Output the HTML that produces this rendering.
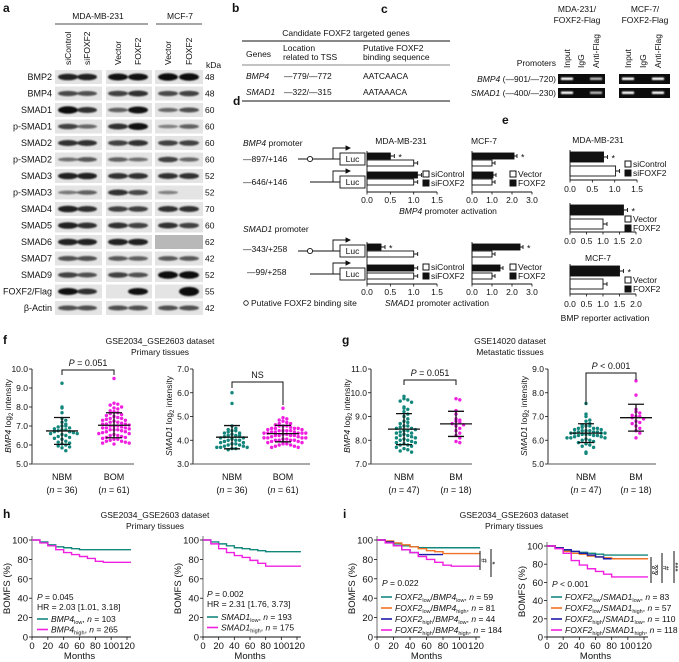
<!DOCTYPE html>
<html><head><meta charset="utf-8"><style>
body{margin:0;background:#fff}
svg{display:block;font-family:"Liberation Sans",sans-serif;font-size:8.5px;fill:#111}
.pl{font-weight:bold;font-size:12px}
.it{font-style:italic}
</style></head><body>
<svg id="fig" width="679" height="662" viewBox="0 0 679 662" xmlns="http://www.w3.org/2000/svg">
<defs><filter id="blur" x="-20%" y="-50%" width="140%" height="200%"><feGaussianBlur stdDeviation="0.8"/></filter></defs>
<text class="pl" x="3" y="12">a</text>
<text class="pl" x="232" y="12">b</text>
<text class="pl" x="381" y="13">c</text>
<text class="pl" x="233" y="105">d</text>
<text class="pl" x="502" y="124">e</text>
<text class="pl" x="3" y="344">f</text>
<text class="pl" x="342" y="344">g</text>
<text class="pl" x="3" y="518">h</text>
<text class="pl" x="343" y="518">i</text>

<g id="blotg">
<text x="98" y="19" text-anchor="middle">MDA-MB-231</text>
<line x1="55" y1="24" x2="148" y2="24" stroke="#111" stroke-width="0.8"/>
<text x="180" y="19" text-anchor="middle">MCF-7</text>
<line x1="156" y1="24" x2="202" y2="24" stroke="#111" stroke-width="0.8"/>
<text x="206" y="68">kDa</text>
</g>

<g>
<text x="346" y="36" text-anchor="middle">Candidate FOXF2 targeted genes</text>
<line x1="242" y1="41" x2="450" y2="41" stroke="#111" stroke-width="0.9"/>
<text x="246" y="57">Genes</text>
<text x="283" y="51">Location</text><text x="283" y="60">related to TSS</text>
<text x="363" y="51">Putative FOXF2</text><text x="363" y="60">binding sequence</text>
<line x1="242" y1="65" x2="450" y2="65" stroke="#111" stroke-width="0.6"/>
<text x="246" y="79" class="it">BMP4</text><text x="284" y="79">—779/—772</text><text x="363" y="79">AATCAACA</text>
<text x="246" y="95" class="it">SMAD1</text><text x="284" y="95">—322/—315</text><text x="363" y="95">AATAAACA</text>
<line x1="242" y1="101" x2="450" y2="101" stroke="#111" stroke-width="0.9"/>
</g>

<g id="chipg">
<text x="577" y="12" text-anchor="middle">MDA-231/</text>
<text x="577" y="23" text-anchor="middle">FOXF2-Flag</text>
<text x="645" y="12" text-anchor="middle">MCF-7/</text>
<text x="645" y="23" text-anchor="middle">FOXF2-Flag</text>
<text x="556" y="66" text-anchor="end">Promoters</text>
<text x="556" y="82" text-anchor="end"><tspan class="it">BMP4</tspan> (—901/—720)</text>
<text x="556" y="96" text-anchor="end"><tspan class="it">SMAD1</tspan> (—400/—230)</text>
</g>

<g stroke-width="0.9">
<text x="243" y="146"><tspan class="it">BMP4</tspan> promoter</text>
<text x="243" y="162">—897/+146</text>
<text x="243" y="185">—646/+146</text>
<text x="243" y="232"><tspan class="it">SMAD1</tspan> promoter</text>
<text x="243" y="252">—343/+258</text>
<text x="247" y="275">—99/+258</text>
<circle cx="246" cy="303" r="2.3" fill="#fff" stroke="#111" stroke-width="0.8"/>
<text x="251" y="306">Putative FOXF2 binding site</text>
<g id="constructs" fill="none" stroke="#111"></g>
<text x="448" y="214" text-anchor="middle"><tspan class="it">BMP4</tspan> promoter activation</text>
<text x="437" y="306" text-anchor="middle"><tspan class="it">SMAD1</tspan> promoter activation</text>
<text x="401" y="144" text-anchor="middle">MDA-MB-231</text>
<text x="484" y="144" text-anchor="middle">MCF-7</text>
<text x="598" y="143" text-anchor="middle">MDA-MB-231</text>
<text x="598" y="261" text-anchor="middle">MCF-7</text>
<text x="605" y="321" text-anchor="middle">BMP reporter activation</text>
</g>
<g id="bars"></g>

<text x="160" y="344" text-anchor="middle">GSE2034_GSE2603 dataset</text>
<text x="160" y="355" text-anchor="middle">Primary tissues</text>
<text x="510" y="344" text-anchor="middle">GSE14020 dataset</text>
<text x="510" y="355" text-anchor="middle">Metastatic tissues</text>
<g id="scatters"></g>

<text x="155" y="518" text-anchor="middle">GSE2034_GSE2603 dataset</text>
<text x="155" y="529" text-anchor="middle">Primary tissues</text>
<text x="514" y="518" text-anchor="middle">GSE2034_GSE2603 dataset</text>
<text x="514" y="529" text-anchor="middle">Primary tissues</text>
<g id="km"></g>
</svg>
<script>
const blotRows = ["BMP2","BMP4","SMAD1","p-SMAD1","SMAD2","p-SMAD2","SMAD3","p-SMAD3","SMAD4","SMAD5","SMAD6","SMAD7","SMAD9","FOXF2/Flag","β-Actin"];
const blotKda = [48,48,60,60,60,60,52,52,70,60,62,42,52,55,42];
const blotLanes = ["siControl","siFOXF2","Vector","FOXF2","Vector","FOXF2"];
const blotStrength = [
 [.8,.8,.9,.9,1,1],[.55,.5,.6,.7,.55,.6],[1,.7,.4,.9,.35,.5],[.6,.35,.7,.9,.2,.4],
 [.7,.7,.6,.7,.6,.6],[.3,.45,.4,.3,.6,.35],[.8,.8,.7,.7,.7,.7],[.25,.4,.7,.55,.2,0],
 [.8,.7,.6,.6,.7,.7],[.8,.7,.7,.6,.7,.6],[.8,.8,.8,.8,-1,-1],[.5,.5,.45,.4,.45,.45],
 [.6,.5,.6,.5,1,1],[.9,.7,0,.9,0,1.3],[.5,.5,.5,.5,.5,.5]];
const chipLanes = ["Input","IgG","Anti-Flag"];
const chipBmp4 = [1,0,.5,1,0,1];
const chipSmad1 = [1,0,.5,1,0,1];

const dBmpMda = [0.5,1.0,1.08,1.0];
const dBmpMcf = [2.1,1.0,1.05,1.0];
const dSmadMda = [0.3,1.0,1.0,1.0];
const dSmadMcf = [2.4,1.0,1.4,1.0];
const eMda = [0.75,1.02];
const eMdaVec = [1.62,1.0];
const eMcf = [1.5,1.0];
const ticks15 = ["0.0","0.5","1.0","1.5"];
const ticks30 = ["0.0","1.0","2.0","3.0"];
const ticks20 = ["0.0","0.5","1.0","1.5","2.0"];

const fNbmBmp4 = [9.25,8.0,7.95,7.7,7.4,7.3,7.2,7.1,7.0,7.0,6.95,6.9,6.85,6.8,6.8,6.75,6.7,6.7,6.65,6.6,6.6,6.55,6.5,6.45,6.4,6.35,6.3,6.2,6.15,6.1,6.05,6.0,5.95,5.9,5.85,5.7];
const fBomBmp4 = [9.5,8.2,8.15,8.1,8.0,7.95,7.9,7.8,7.75,7.7,7.65,7.6,7.55,7.5,7.45,7.4,7.35,7.3,7.3,7.25,7.2,7.15,7.1,7.1,7.05,7.0,7.0,6.95,6.9,6.9,6.85,6.8,6.8,6.75,6.7,6.7,6.65,6.6,6.6,6.55,6.5,6.5,6.45,6.4,6.4,6.35,6.3,6.3,6.25,6.2,6.2,6.15,6.1,6.1,6.05,7.2,7.0,6.9,7.1,7.4,6.8];
const fNbmSmad1 = [6.0,5.55,4.6,4.5,4.45,4.4,4.4,4.35,4.3,4.3,4.25,4.2,4.2,4.15,4.1,4.1,4.05,4.0,4.0,3.95,3.9,3.9,3.85,3.85,3.8,3.8,3.75,3.75,3.7,3.7,3.7,3.65,3.65,3.6,4.0,4.2];
const fBomSmad1 = [5.35,4.95,4.9,4.85,4.8,4.75,4.7,4.7,4.65,4.6,4.6,4.55,4.5,4.5,4.5,4.45,4.45,4.4,4.4,4.4,4.35,4.35,4.3,4.3,4.3,4.3,4.25,4.25,4.2,4.2,4.2,4.15,4.15,4.1,4.1,4.1,4.05,4.05,4.0,4.0,4.0,3.95,3.95,3.9,3.9,3.85,3.85,3.8,3.8,3.75,3.75,3.7,3.7,4.3,4.4,4.2,4.5,4.1,4.6,4.0,4.35];
const gNbmBmp4 = [9.85,9.75,9.7,9.65,9.6,9.4,9.35,9.3,9.2,9.1,9.0,8.9,8.8,8.75,8.7,8.6,8.55,8.5,8.45,8.4,8.4,8.35,8.3,8.3,8.25,8.2,8.2,8.15,8.1,8.1,8.05,8.0,8.0,7.95,7.9,7.9,7.85,7.8,7.8,7.75,7.7,7.65,7.6,7.55,7.5,8.5,8.6];
const gBmBmp4 = [9.75,9.7,9.25,9.1,8.9,8.85,8.8,8.75,8.7,8.65,8.6,8.5,8.4,8.3,8.2,8.1,7.95,7.9];
const gNbmSmad1 = [7.55,7.1,7.0,6.85,6.8,6.7,6.65,6.6,6.55,6.5,6.5,6.45,6.4,6.4,6.35,6.35,6.3,6.3,6.3,6.25,6.25,6.2,6.2,6.15,6.15,6.1,6.1,6.05,6.0,6.0,5.95,5.9,5.85,5.8,5.75,5.7,5.5,5.45,6.3,6.4,6.2,6.5,6.1,6.35,6.25,6.45,6.6];
const gBmSmad1 = [8.5,7.9,7.3,7.2,7.15,7.05,7.0,7.0,6.95,6.9,6.8,6.75,6.7,6.6,6.5,6.4,6.3,6.1];
const fTicks1 = ["5.0","6.0","7.0","8.0","9.0","10.0"];
const fTicks2 = ["3.0","4.0","5.0","6.0","7.0"];
const gTicks1 = ["7.0","8.0","9.0","10.0","11.0"];
const gTicks2 = ["5.0","6.0","7.0","8.0","9.0"];

const kmMonths = [0,10,20,30,40,50,60,70,80,90,125];
const hBmp4Low  = [100,98,95,93,92,91,90,90,90,90,90];
const hBmp4High = [100,97,94,90,87,85,83,81,78,77,77];
const hSmad1Low = [100,98,96,94,92,91,90,89,88,88,88];
const hSmad1High= [100,96,91,87,84,82,79,76,73,73,73];
const iB_LL = [100,98,96,94,93,92,92,92,92,92,92];
const iB_LH = [100,99,97,95,93,91,89,88,86,86,86];
const iB_HL = [100,98,94,90,87,85,85,85,85];
const iB_HH = [100,97,94,90,87,83,80,77,74,73,73];
const iS_LL = [100,98,95,94,93,92,91,90,90,90,90];
const iS_LH = [100,98,94,92,91,89,88,87,86,86,86];
const iS_HL = [100,98,96,94,92,90,88,86,86];
const iS_HH = [100,97,92,84,79,75,72,69,66,66,66];
const kmYTicks = ["0","20","40","60","80","100"];
const kmXTicks = ["0","20","40","60","80","100","120"];

const NS="http://www.w3.org/2000/svg";
function mk(tag,attrs,parent){const e=document.createElementNS(NS,tag);for(const k in attrs)e.setAttribute(k,attrs[k]);parent.appendChild(e);return e;}
function txt(s,attrs,parent){const e=mk("text",attrs,parent);e.textContent=s;return e;}
const TEAL="#14877d",MAG="#f020e0",ORA="#f07224",BLU="#1c1ca8";

(function(){
 const g=document.getElementById("blotg");
 const laneX=[68,87,118,138,168,189];
 const boxes=[[55,102],[106,152],[155,203]];
 blotLanes.forEach((l,i)=>{
  const t=txt(l,{x:laneX[i]+3,y:65,transform:`rotate(-90 ${laneX[i]+3} 65)`},g);
  
  
 });
 blotRows.forEach((r,ri)=>{
  const cy=77+ri*16.5;
  const lab=txt(r,{x:52,y:cy+3,"text-anchor":"end","font-size":"9px"},g);
  
  
  boxes.forEach((b,bi)=>{
   const gray = blotStrength[ri][bi*2]<0;
   const rc=mk("rect",{x:b[0],y:cy-7,width:b[1]-b[0],height:14,fill:gray?"#b8b8b8":"#e4e4e4"},g);
   
   
  });
  blotStrength[ri].forEach((s,li)=>{
   if(s<=0)return;
   const el=mk("ellipse",{cx:laneX[li],cy:cy,rx:10,ry:1.2+2.6*s,fill:"#111","fill-opacity":Math.min(1,.35+.7*s),filter:"url(#blur)"},g);
   
   
  });
  const k=txt(String(blotKda[ri]),{x:205,y:cy+3},g);
  
  
 });
})();

(function(){
 const g=document.getElementById("chipg");
 const lx=[567,581,596,628,643,658];
 lx.forEach((x,i)=>{
  const t=txt(chipLanes[i%3],{x:x+3,y:68,transform:`rotate(-90 ${x+3} 68)`},g);
  
  
 });
 [[74,chipBmp4],[88,chipSmad1]].forEach(([y,vals])=>{
  [[558,605],[619,670]].forEach(b=>{
   const r=mk("rect",{x:b[0],y:y,width:b[1]-b[0],height:10,fill:"#0c0c0c"},g);
   
   
  });
  vals.forEach((v,i)=>{
   if(v<=0)return;
   const e=mk("rect",{x:lx[i]-6,y:y+3.5,width:12,height:2.5,fill:"#fff","fill-opacity":.4+.6*v,filter:"url(#blur)"},g);
   
   
  });
 });
})();

(function(){
 const g=document.getElementById("constructs");
 [[159,true],[182,false],[251,true],[274,false]].forEach(([y,site])=>{
  mk("line",{x1:site?298:310,y1:y,x2:340,y2:y},g);
  if(site){const c=mk("circle",{cx:310,cy:y,r:2.6,fill:"#fff"},g);
   
   }
  mk("polyline",{points:`333,${y} 333,${y-11} 346,${y-11}`},g);
  mk("path",{d:`M346,${y-13} L350,${y-11} L346,${y-9}Z`,fill:"#111"},g);
  const b=mk("rect",{x:340,y:y-6,width:25,height:12,fill:"#fff"},g);
  
  
  const t=txt("Luc",{x:352.5,y:y+3,"text-anchor":"middle",fill:"#111",stroke:"none"},g);
  
  
 });
})();

function barChart(o){
 const g=document.getElementById("bars");
 const sx=v=>o.x0+v*o.ppu;
 o.vals.forEach((v,i)=>{
  const y=o.barY[i],h=o.barH;
  const filled=i%2===0;
  const r=mk("rect",{x:o.x0,y:y,width:sx(v)-o.x0,height:h,fill:filled?"#111":"#fff",stroke:"#111","stroke-width":.9},g);
  
  
  const e=mk("path",{d:`M${sx(v)},${y+h/2}h${o.err}M${sx(v)+o.err},${y+h/2-2}v4`,stroke:"#111","stroke-width":.9},g);
  
  
  if(o.star&&o.star[i]){const s=txt("*",{x:sx(v)+o.err+4,y:y+h/2+4.5,"font-size":"9px"},g);
   
   }
 });
 const top=o.barY[0]-2,bot=o.axisY;
 mk("line",{x1:o.x0,y1:top,x2:o.x0,y2:bot,stroke:"#111","stroke-width":.9},g);
 mk("line",{x1:o.x0,y1:bot,x2:sx(o.max),y2:bot,stroke:"#111","stroke-width":.9},g);
 o.ticks.forEach((t,i)=>{
  const v=o.max*i/(o.ticks.length-1);
  mk("line",{x1:sx(v),y1:bot,x2:sx(v),y2:bot+2.5,stroke:"#111","stroke-width":.8},g);
  const tl=txt(t,{x:sx(v),y:o.labY,"text-anchor":"middle"},g);
  
  
 });
 o.legend.forEach((l,i)=>{
  const y=o.legY+i*9;
  const sq=mk("rect",{x:o.legX,y:y-6,width:6,height:6,fill:i===0?"#fff":"#111",stroke:"#111","stroke-width":1},g);
  
  
  const lt=txt(l,{x:o.legX+8,y:y},g);
  
  
 });
}
barChart({vals:dBmpMda,x0:367,ppu:46.7,max:1.5,barY:[153,160,172,179],barH:6,err:4,star:[1],axisY:192,labY:203,ticks:ticks15,legend:["siControl","siFOXF2"],legX:423,legY:177});
barChart({vals:dBmpMcf,x0:472,ppu:20,max:3,barY:[153,160,172,179],barH:6,err:3,star:[1],axisY:192,labY:203,ticks:ticks30,legend:["Vector","FOXF2"],legX:510,legY:177});
barChart({vals:dSmadMda,x0:367,ppu:46.7,max:1.5,barY:[244,251,265,273],barH:6,err:4,star:[1],axisY:284,labY:295,ticks:ticks15,legend:["siControl","siFOXF2"],legX:423,legY:270});
barChart({vals:dSmadMcf,x0:472,ppu:20,max:3,barY:[244,251,265,273],barH:6,err:3,star:[1],axisY:284,labY:295,ticks:ticks30,legend:["Vector","FOXF2"],legX:510,legY:270});
barChart({vals:eMda,x0:570,ppu:44.7,max:1.5,barY:[152,166],barH:10,err:4,star:[1],axisY:180,labY:192,ticks:ticks15,legend:["siControl","siFOXF2"],legX:625,legY:167});
barChart({vals:eMdaVec,x0:570,ppu:33,max:2,barY:[205,219],barH:10,err:4,star:[1],axisY:232,labY:244,ticks:ticks20,legend:["Vector","FOXF2"],legX:625,legY:222});
barChart({vals:eMcf,x0:570,ppu:33,max:2,barY:[266,279],barH:10,err:4,star:[1],axisY:294,labY:307,ticks:ticks20,legend:["Vector","FOXF2"],legX:625,legY:283});

function scatter(o){
 const g=document.getElementById("scatters");
 const yT=369,yB=464;
 const sy=v=>yB-(v-o.min)/(o.max-o.min)*(yB-yT);
 mk("line",{x1:o.ax,y1:yT,x2:o.ax,y2:yB,stroke:"#111","stroke-width":.9},g);
 mk("line",{x1:o.ax,y1:yB,x2:o.axEnd,y2:yB,stroke:"#777","stroke-width":1.2},g);
 o.ticks.forEach((t,i)=>{
  const v=o.min+i*(o.max-o.min)/(o.ticks.length-1);
  mk("line",{x1:o.ax-3,y1:sy(v),x2:o.ax,y2:sy(v),stroke:"#111","stroke-width":.8},g);
  const tl=txt(t,{x:o.ax-4,y:sy(v)+3,"text-anchor":"end"},g);
  
  
 });
 const yt=txt("",{x:0,y:0,transform:`translate(${o.ax-21},416) rotate(-90)`,"text-anchor":"middle"},g);
 yt.innerHTML=`<tspan font-style="italic">${o.gene}</tspan> log<tspan font-size="6" dy="2">2</tspan><tspan dy="-2"> intensity</tspan>`;
 
 
 o.groups.forEach((grp,gi)=>{
  const cx=o.cx[gi],col=gi===0?TEAL:MAG;
  const vals=grp.slice().sort((a,b)=>b-a);
  const bins={};
  vals.forEach(v=>{
   const py=sy(v),key=Math.round(py/4.5);
   const n=bins[key]||0;bins[key]=n+1;
   const off=(n===0?0:(n%2?1:-1)*Math.ceil(n/2))*3.8;
   const c=mk("circle",{cx:cx+off,cy:py,r:1.7,fill:col},g);
   
   
  });
  const m=grp.reduce((a,b)=>a+b,0)/grp.length;
  const sd=Math.sqrt(grp.reduce((a,b)=>a+(b-m)*(b-m),0)/(grp.length-1));
  const p=mk("path",{d:`M${cx-16},${sy(m)}h32M${cx-8},${sy(m+sd)}h16M${cx-8},${sy(m-sd)}h16M${cx},${sy(m+sd)}V${sy(m-sd)}`,stroke:"#111","stroke-width":1.3,fill:"none"},g);
  
  
  const l1=txt(o.names[gi],{x:cx,y:480,"text-anchor":"middle","font-size":"9px"},g);
  
  
  const l2=txt("",{x:cx,y:493,"text-anchor":"middle","font-size":"9px"},g);
  l2.innerHTML=`(<tspan font-style="italic">n</tspan> = ${grp.length})`;
  
  
 });
 const b=o.br;
 const bp=mk("path",{d:`M${o.cx[0]},${b[1]}V${b[0]}H${o.cx[1]}V${b[2]}`,stroke:"#111","stroke-width":1,fill:"none"},g);
 
 
 const bt=txt("",{x:(o.cx[0]+o.cx[1])/2,y:b[0]-4,"text-anchor":"middle","font-size":"9px"},g);
 bt.innerHTML=o.ptxt;
 
 
}
scatter({ax:32,axEnd:134,min:5,max:10,ticks:fTicks1,gene:"BMP4",groups:[fNbmBmp4,fBomBmp4],cx:[62,114],names:["NBM","BOM"],br:[370,375,375],ptxt:'<tspan font-style="italic">P</tspan> = 0.051'});
scatter({ax:193,axEnd:310,min:3,max:7,ticks:fTicks2,gene:"SMAD1",groups:[fNbmSmad1,fBomSmad1],cx:[232,283],names:["NBM","BOM"],br:[382,388,405],ptxt:'NS'});
scatter({ax:371,axEnd:472,min:7,max:11,ticks:gTicks1,gene:"BMP4",groups:[gNbmBmp4,gBmBmp4],cx:[404,456],names:["NBM","BM"],br:[380,385,385],ptxt:'<tspan font-style="italic">P</tspan> = 0.051'});
scatter({ax:548,axEnd:656,min:5,max:9,ticks:gTicks2,gene:"SMAD1",groups:[gNbmSmad1,gBmSmad1],cx:[586,636],names:["NBM","BM"],br:[373,405,380],ptxt:'<tspan font-style="italic">P</tspan> &lt; 0.001'});

function km(o){
 const g=document.getElementById("km");
 const sx=m=>o.x0+m/120*(o.x120-o.x0);
 const sy=v=>o.y0-v/100*(o.y0-o.y100);
 mk("line",{x1:o.x0,y1:o.y100-4,x2:o.x0,y2:o.y0,stroke:"#888","stroke-width":1.2},g);
 mk("line",{x1:o.x0,y1:o.y0,x2:sx(125),y2:o.y0,stroke:"#111","stroke-width":.9},g);
 kmYTicks.forEach((t,i)=>{
  const v=i*20;
  mk("line",{x1:o.x0-3,y1:sy(v),x2:o.x0,y2:sy(v),stroke:"#111","stroke-width":.8},g);
  const tl=txt(t,{x:o.x0-4,y:sy(v)+3.5,"text-anchor":"end","font-size":"9.5px"},g);
  
  
 });
 kmXTicks.forEach((t,i)=>{
  const v=i*20;
  mk("line",{x1:sx(v),y1:o.y0,x2:sx(v),y2:o.y0+3,stroke:"#111","stroke-width":.8},g);
  const tl=txt(t,{x:sx(v),y:o.y0+12,"text-anchor":"middle","font-size":"9.5px"},g);
  
  
 });
 const xt=txt("Months",{x:sx(60),y:o.y0+22,"text-anchor":"middle","font-size":"9.5px"},g);
 
 
 const yt=txt("BOMFS (%)",{x:0,y:0,transform:`translate(${o.x0-22},${(o.y0+o.y100)/2}) rotate(-90)`,"text-anchor":"middle","font-size":"9.5px"},g);
 
 
 o.series.forEach((s,si)=>{
  let d=`M${sx(kmMonths[0])},${sy(s.v[0])}`;
  for(let i=1;i<s.v.length;i++){d+=`H${sx(kmMonths[i])}V${sy(s.v[i])}`;}
  const p=mk("path",{d:d,stroke:s.c,"stroke-width":1.4,fill:"none"},g);
  
  
  const ly=o.legY+si*o.legDy;
  const sw=mk("line",{x1:o.legX,y1:ly-3,x2:o.legX+11,y2:ly-3,stroke:s.c,"stroke-width":1.6},g);
  
  
  const lt=txt("",{x:o.legX+14,y:ly},g);
  lt.innerHTML=s.label;
  
  
 });
 o.notes.forEach(n=>{const t=txt("",{x:n[0],y:n[1]},g);t.innerHTML=n[2];
  
  });
}
const sub=(a,b)=>`<tspan font-style="italic">${a}</tspan><tspan font-size="5.5" dy="2">${b}</tspan><tspan dy="-2">`;
km({x0:32,x120:127,y0:637,y100:540,legX:37,legY:622,legDy:10.5,
 series:[{v:hBmp4Low,c:TEAL,label:sub("BMP4","low")+`, <tspan font-style="italic">n</tspan> = 103</tspan>`},{v:hBmp4High,c:MAG,label:sub("BMP4","high")+`, <tspan font-style="italic">n</tspan> = 265</tspan>`}],
 notes:[[37,600,'<tspan font-style="italic">P</tspan> = 0.045'],[37,610,'HR = 2.03 [1.01, 3.18]']]});
km({x0:203,x120:297,y0:637,y100:540,legX:207,legY:620,legDy:10.5,
 series:[{v:hSmad1Low,c:TEAL,label:sub("SMAD1","low")+`, <tspan font-style="italic">n</tspan> = 193</tspan>`},{v:hSmad1High,c:MAG,label:sub("SMAD1","high")+`, <tspan font-style="italic">n</tspan> = 175</tspan>`}],
 notes:[[207,597,'<tspan font-style="italic">P</tspan> = 0.002'],[207,607,'HR = 2.31 [1.76, 3.73]']]});
const sub2=(g1,l1,g2,l2,n)=>sub("FOXF2",l1)+`/</tspan>`+sub(g2,l2)+`, <tspan font-style="italic">n</tspan> = ${n}</tspan>`;
km({x0:377,x120:476,y0:637,y100:540,legX:381,legY:600,legDy:11,
 series:[{v:iB_LL,c:TEAL,label:sub2("FOXF2","low","BMP4","low",59)},{v:iB_LH,c:ORA,label:sub2("FOXF2","low","BMP4","high",81)},{v:iB_HL,c:BLU,label:sub2("FOXF2","high","BMP4","low",44)},{v:iB_HH,c:MAG,label:sub2("FOXF2","high","BMP4","high",184)}],
 notes:[[382,586,'<tspan font-style="italic">P</tspan> = 0.022']]});
km({x0:547,x120:644,y0:637,y100:546,legX:551,legY:600,legDy:11,
 series:[{v:iS_LL,c:TEAL,label:sub2("FOXF2","low","SMAD1","low",83)},{v:iS_LH,c:ORA,label:sub2("FOXF2","low","SMAD1","high",57)},{v:iS_HL,c:BLU,label:sub2("FOXF2","high","SMAD1","low",110)},{v:iS_HH,c:MAG,label:sub2("FOXF2","high","SMAD1","high",118)}],
 notes:[[552,587,'<tspan font-style="italic">P</tspan> &lt; 0.001']]});
(function(){
 const g=document.getElementById("km");
 [[480,551,570,"#"],[491,549,577,"*"],[651,557,583,"&amp;&amp;"],[662,553,583,"#"],[674,551,583,"***"]].forEach(s=>{
  const l=mk("line",{x1:s[0],y1:s[1],x2:s[0],y2:s[2],stroke:"#111","stroke-width":1},g);
  
  
  const t=txt("",{x:0,y:0,transform:`translate(${s[0]+7},${(s[1]+s[2])/2}) rotate(-90)`,"text-anchor":"middle","font-size":"8px"},g);
  t.innerHTML=s[3];
  
  
 });
})();
</script>
</body></html>
